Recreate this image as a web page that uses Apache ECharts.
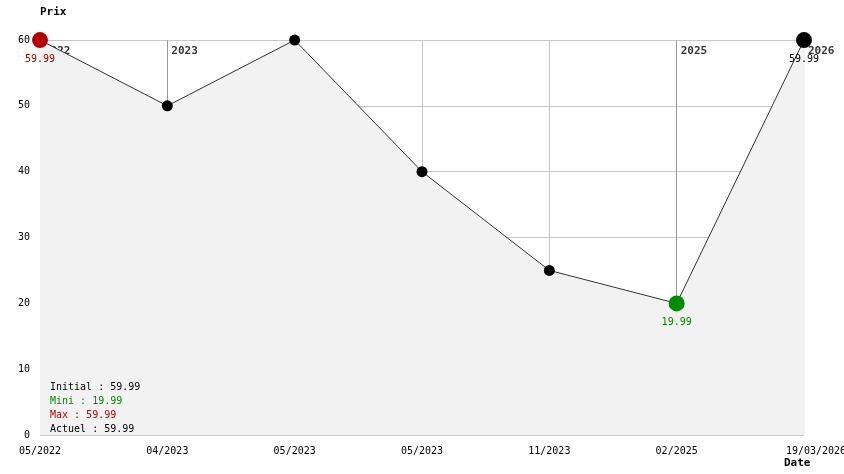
<!DOCTYPE html>
<html>
<head>
<meta charset="utf-8">
<script src="https://cdn.jsdelivr.net/npm/echarts@6/dist/echarts.min.js"></script>
<style>
html, body { margin: 0; padding: 0; background: #fff; }
#chart { width: 844px; height: 474px; }
</style>
</head>
<body>
<div id="chart"></div>
<script>
// données
var dates = ['05/2022', '04/2023', '05/2023', '05/2023', '11/2023', '02/2025', '19/03/2026'];
var prix = [59.99, 50, 59.99, 40, 25, 19.99, 59.99];
var yearIdx = [0, 1, 5, 6];
var yearLabels = ['2022', '2023', '2025', '2026'];
var statsLabels = ['Initial', 'Mini', 'Max', 'Actuel'];
var statsValues = [59.99, 19.99, 59.99, 59.99];

var font = '"DejaVu Sans Mono", monospace';
var RED = '#b40000', GREEN = '#008c00';

var minV = Math.min.apply(null, prix), maxV = Math.max.apply(null, prix);
var iMin = prix.indexOf(minV), iMax = prix.indexOf(maxV), iLast = prix.length - 1;

var lineData = prix.map(function (v, i) {
  var item = { value: v };
  var col = null;
  if (i === iMax) col = RED;
  else if (i === iMin) col = GREEN;
  else if (i === iLast) col = '#000';
  if (col) {
    item.symbolSize = 16;
    item.itemStyle = { color: col };
    item.label = {
      show: true, position: 'bottom', distance: 6,
      color: col, fontFamily: font, fontSize: 10,
      formatter: function (p) { return p.value.toFixed(2); }
    };
  }
  return item;
});

// couleurs des lignes verticales : années plus foncées
var splitColors = dates.map(function (d, i) {
  if (i === dates.length - 1) return '#f2f2f2';
  return yearIdx.indexOf(i) >= 0 ? '#999999' : '#c8c8c8';
});

var yearData = yearIdx.map(function (idx, k) {
  return { value: [idx, 60], name: yearLabels[k] };
});

var statsColors = ['#000', GREEN, '#c00000', '#000'];
var statsText = statsLabels.map(function (l, i) {
  return {
    type: 'text', left: 50, top: 382 + i * 14, z: 100,
    style: {
      text: l + ' : ' + statsValues[i].toFixed(2),
      fill: statsColors[i], font: '10px ' + font
    }
  };
});

var chart = echarts.init(document.getElementById('chart'));
chart.setOption({
  animation: false,
  backgroundColor: '#fff',
  grid: { left: 40, right: 40, top: 40, bottom: 39, outerBoundsMode: 'none', containLabel: false },
  xAxis: {
    type: 'category',
    data: dates,
    boundaryGap: false,
    axisLine: { show: false },
    axisTick: { show: false },
    axisLabel: {
      color: '#000', fontFamily: font, fontSize: 10, margin: 11, interval: 0,
      showMaxLabel: true, showMinLabel: true,
      formatter: function (v, i) {
        return i === dates.length - 1 ? '{last|' + v + '}' : v;
      },
      rich: { last: { padding: [0, 0, 0, 24], fontFamily: font, fontSize: 10, color: '#000' } }
    },
    splitLine: { show: true, lineStyle: { color: splitColors, width: 1 } },
    name: 'Date',
    nameLocation: 'end',
    nameGap: -20,
    nameTextStyle: {
      color: '#000', fontFamily: font, fontSize: 11, fontWeight: 'bold',
      align: 'left', verticalAlign: 'top', padding: [23, 0, 0, 0]
    }
  },
  yAxis: {
    type: 'value',
    min: 0, max: 60, interval: 10,
    axisLine: { show: false },
    axisTick: { show: false },
    axisLabel: { color: '#000', fontFamily: font, fontSize: 10, margin: 10 },
    splitLine: { show: true, lineStyle: { color: '#c8c8c8', width: 1 } },
    name: 'Prix',
    nameGap: 22,
    nameTextStyle: {
      color: '#000', fontFamily: font, fontSize: 11, fontWeight: 'bold', align: 'left'
    }
  },
  graphic: statsText,
  series: [
    {
      type: 'scatter',
      data: yearData,
      symbolSize: 0,
      z: 1,
      silent: true,
      label: {
        show: true, position: [4, 6], align: 'left', verticalAlign: 'top',
        formatter: '{b}', color: '#000', fontFamily: font, fontSize: 11, fontWeight: 'bold'
      }
    },
    {
      type: 'line',
      data: lineData,
      z: 3,
      symbol: 'circle',
      symbolSize: 11,
      itemStyle: { color: '#000' },
      lineStyle: { color: '#333', width: 1 },
      areaStyle: { color: '#f2f2f2', opacity: 1 }
    }
  ]
});
</script>
</body>
</html>
